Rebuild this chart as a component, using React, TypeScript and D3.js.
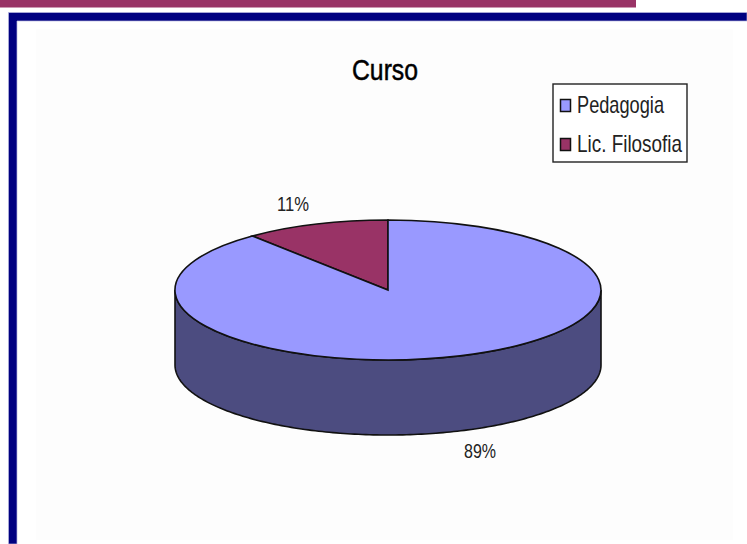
import React from "react";
import * as d3 from "d3";

const categories = ["Lic. Filosofia", "Pedagogia"];
const values = [11, 89];
const labels = ["11%", "89%"];
const legendOrder = ["Pedagogia", "Lic. Filosofia"];
const topColors: Record<string, string> = { Pedagogia: "#9999ff", "Lic. Filosofia": "#993366" };
const sideColor = "#4c4c80";
const FONT = "'Liberation Sans', Arial, sans-serif";

const W = 747, H = 544;
const cx = 388, cy = 290, rx = 213, ry = 70, depth = 75;

export default function App() {
  const pie = d3.pie<number>().value((d) => d).sort(null).startAngle(-values[0] / 100 * 2 * Math.PI).endAngle(2 * Math.PI - values[0] / 100 * 2 * Math.PI);
  const arcs = pie(values);
  const sy = d3.scaleLinear().domain([-1, 1]).range([cy - ry, cy + ry]);
  const sx = d3.scaleLinear().domain([-1, 1]).range([cx - rx, cx + rx]);
  const arcGen = d3.arc<d3.PieArcDatum<number>>().innerRadius(0).outerRadius(1);
  const sideAngles = d3.range(90, 270.5, 1).map((d) => (d * Math.PI) / 180);
  const front = sideAngles.map((a) => [sx(Math.sin(a)), sy(-Math.cos(a))] as [number, number]);
  const back = [...front].reverse().map(([x, y]) => [x, y + depth] as [number, number]);
  const side = d3.line()([...front, ...back]) + "Z";
  return (
    <svg width={W} height={H} style={{ position: "absolute", left: 0, top: 0, background: "#fff" }} fontFamily={FONT}>
      <rect x={0} y={0} width={636} height={7.5} fill="#993366" />
      <path d="M8.5 544V12.5H747V21H17V544Z" fill="#000080" stroke="#b8b8e0" strokeWidth={0.7} />
      <rect x={36} y={29} width={697} height={511} fill="#fdfdfd" />
      <text x={385} y={80} textAnchor="middle" fontSize={29} stroke="#000" strokeWidth={0.5} textLength={66} lengthAdjust="spacingAndGlyphs">Curso</text>
      <rect x={553} y={84} width={134} height={78} fill="#fff" stroke="#222" strokeWidth={1.4} />
      {legendOrder.map((name, i) => (
        <g key={name}>
          <rect x={560.5} y={99.5 + i * 39} width={10} height={12} fill={topColors[name]} stroke="#111" strokeWidth={1.5} />
          <text x={577} y={113 + i * 39} fontSize={24} fill="#222" textLength={name === "Pedagogia" ? 87 : 105} lengthAdjust="spacingAndGlyphs">{name}</text>
        </g>
      ))}
      <path d={side} fill={sideColor} stroke="#111" strokeWidth={1.6} />
      <g transform={`translate(${sx(0)},${sy(0)}) scale(${rx},${ry})`}>
        {arcs.map((a, i) => (
          <path key={categories[i]} d={arcGen(a) as string} fill={topColors[categories[i]]} stroke="#111" strokeWidth={1.6} vectorEffect="non-scaling-stroke" />
        ))}
      </g>
      <text x={293} y={211} textAnchor="middle" fontSize={20} fill="#222" textLength={32} lengthAdjust="spacingAndGlyphs">{labels[0]}</text>
      <text x={480} y={458} textAnchor="middle" fontSize={20} fill="#222" textLength={32} lengthAdjust="spacingAndGlyphs">{labels[1]}</text>
    </svg>
  );
}
